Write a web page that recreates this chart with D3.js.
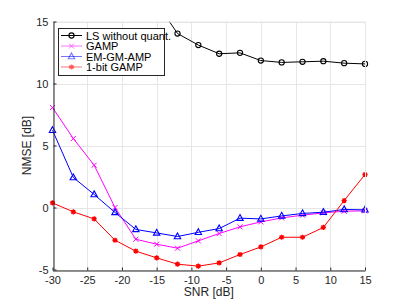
<!DOCTYPE html>
<html>
<head>
<meta charset="utf-8">
<script src="https://cdn.jsdelivr.net/npm/d3@7"></script>
<style>
  body { margin: 0; background: #fff; }
  text { font-family: "Liberation Sans", Arial, sans-serif; }
</style>
</head>
<body>
<script>
"use strict";

var snr = [-30, -27, -24, -21, -18, -15, -12, -9, -6, -3, 0, 3, 6, 9, 12, 15];
var lsNoQuant = [30, 27, 24, 21.5, 19, 16.5, 14.03, 13.1, 12.4, 12.47, 11.85, 11.7, 11.75, 11.8, 11.64, 11.58];
var gamp = [8.06, 5.56, 3.41, 0.0, -2.56, -2.96, -3.28, -2.69, -2.1, -1.56, -1.16, -0.84, -0.62, -0.43, -0.3, -0.27];
var emGmAmp = [6.23, 2.42, 1.05, -0.4, -1.77, -2.05, -2.34, -2.0, -1.7, -0.86, -0.92, -0.68, -0.48, -0.38, -0.16, -0.19];
var oneBitGamp = [0.37, -0.35, -0.92, -2.64, -3.52, -4.06, -4.57, -4.73, -4.47, -3.79, -3.18, -2.4, -2.4, -1.61, 0.56, 2.66];
var xTicks = [-30, -25, -20, -15, -10, -5, 0, 5, 10, 15];
var yTicks = [-5, 0, 5, 10, 15];

var series = [
    { name: "LS without quant.", values: lsNoQuant, color: "#000000", marker: "circle", legendOpacity: 1 },
    { name: "GAMP", values: gamp, color: "#ff00ff", marker: "cross", legendOpacity: 0.55 },
    { name: "EM-GM-AMP", values: emGmAmp, color: "#0000ff", marker: "triangle", legendOpacity: 0.55 },
    { name: "1-bit GAMP", values: oneBitGamp, color: "#ff0000", marker: "star", legendOpacity: 0.55 }
];

var width = 403,
    height = 303;
var plotLeft = 52.5, plotRight = 365, plotTop = 21.5, plotBottom = 269.5;

var x = d3.scaleLinear().domain([-30, 15]).range([plotLeft, plotRight]);
var y = d3.scaleLinear().domain([-5, 15]).range([plotBottom, plotTop]);

var svg = d3.select("body").append("svg")
    .attr("width", width)
    .attr("height", height);

// grid
svg.append("g").selectAll("line")
    .data(xTicks)
    .enter().append("line")
        .attr("x1", function(d) { return Math.round(x(d)) + 0.5; })
        .attr("x2", function(d) { return Math.round(x(d)) + 0.5; })
        .attr("y1", plotTop)
        .attr("y2", plotBottom)
        .style("stroke", "#e6e6e6")
        .style("stroke-width", 1);

svg.append("g").selectAll("line")
    .data(yTicks)
    .enter().append("line")
        .attr("x1", plotLeft)
        .attr("x2", plotRight)
        .attr("y1", function(d) { return Math.round(y(d)) + 0.5; })
        .attr("y2", function(d) { return Math.round(y(d)) + 0.5; })
        .style("stroke", "#e6e6e6")
        .style("stroke-width", 1);

svg.append("clipPath").attr("id", "plotclip")
    .append("rect")
        .attr("x", plotLeft - 6).attr("y", plotTop)
        .attr("width", plotRight - plotLeft + 12).attr("height", plotBottom - plotTop + 6);

var line = d3.line()
    .x(function(d, i) { return x(snr[i]); })
    .y(function(d) { return y(d); });

var plot = svg.append("g").attr("clip-path", "url(#plotclip)");

function drawMarker(g, type, color) {
    if (type === "circle") {
        g.append("circle").attr("r", 2.6)
            .style("fill", "none").style("stroke", color).style("stroke-width", 1.1);
    } else if (type === "cross") {
        g.append("path").attr("d", "M-2.5,-2.5L2.5,2.5M-2.5,2.5L2.5,-2.5")
            .style("stroke", color).style("stroke-width", 1);
    } else if (type === "triangle") {
        g.append("path").attr("d", "M0,-3.6L3.2,2.2L-3.2,2.2Z")
            .style("fill", "none").style("stroke", color).style("stroke-width", 1.1);
    } else if (type === "star") {
        g.append("path").attr("d", "M-2.6,0L2.6,0M0,-2.6L0,2.6M-1.9,-1.9L1.9,1.9M-1.9,1.9L1.9,-1.9")
            .style("stroke", color).style("stroke-width", 1.3);
        g.append("circle").attr("r", 1.4).style("fill", color);
    }
}

series.forEach(function(s) {
    plot.append("path")
        .datum(s.values)
        .attr("d", line)
        .style("fill", "none")
        .style("stroke", s.color)
        .style("stroke-width", 1);

    plot.selectAll(null)
        .data(s.values)
        .enter().append("g")
            .attr("transform", function(d, i) { return "translate(" + x(snr[i]) + "," + y(d) + ")"; })
            .each(function() { drawMarker(d3.select(this), s.marker, s.color); });
});

// light box on top and right
svg.append("path")
    .attr("d", "M" + plotLeft + "," + (plotTop + 0.5) + "H" + (plotRight + 0.5) + "V" + plotBottom)
    .style("fill", "none")
    .style("stroke", "#e6e6e6");

// axes
var xAxis = svg.append("g")
    .attr("transform", "translate(0," + (Math.round(plotBottom) + 0.5) + ")")
    .call(d3.axisBottom(x).tickValues(xTicks).tickSizeInner(-3).tickSizeOuter(0).tickPadding(6));

var yAxis = svg.append("g")
    .attr("transform", "translate(" + (Math.round(plotLeft) + 0.5) + ",0)")
    .call(d3.axisLeft(y).tickValues(yTicks).tickSizeInner(-3).tickSizeOuter(0).tickPadding(5));

[xAxis, yAxis].forEach(function(a) {
    a.select(".domain").style("stroke", "#262626");
    a.selectAll(".tick line").style("stroke", "#262626");
    a.selectAll(".tick text")
        .style("font-family", "Liberation Sans, Arial, sans-serif")
        .style("font-size", "11px")
        .style("fill", "#262626");
});
xAxis.selectAll(".tick text").text(function(d) { return d; });
yAxis.selectAll(".tick text").text(function(d) { return d; });

svg.append("text")
    .attr("x", (plotLeft + plotRight) / 2)
    .attr("y", 296)
    .attr("text-anchor", "middle")
    .style("font-size", "12px")
    .style("fill", "#262626")
    .text("SNR [dB]");

svg.append("text")
    .attr("transform", "translate(31," + ((plotTop + plotBottom) / 2) + ") rotate(-90)")
    .attr("text-anchor", "middle")
    .style("font-size", "12px")
    .style("fill", "#262626")
    .text("NMSE [dB]");

// legend
var legend = svg.append("g");
legend.append("rect")
    .attr("x", 58.5).attr("y", 28.5)
    .attr("width", 106).attr("height", 47)
    .style("fill", "#fff")
    .style("stroke", "#262626")
    .style("stroke-width", 1);

var rows = legend.selectAll("g")
    .data(series)
    .enter().append("g")
        .attr("transform", function(d, i) { return "translate(0," + (35.5 + i * 10.5) + ")"; });

rows.append("line")
    .attr("x1", 61).attr("x2", 82)
    .style("stroke", function(d) { return d.color; })
    .style("opacity", function(d) { return d.legendOpacity; })
    .style("stroke-width", 1);

rows.append("g")
    .attr("transform", "translate(71.5,0)")
    .style("opacity", function(d) { return d.legendOpacity; })
    .each(function(d) { drawMarker(d3.select(this), d.marker, d.color); });

rows.append("text")
    .attr("x", 86)
    .attr("y", 4)
    .style("font-size", "11px")
    .style("fill", "#000")
    .text(function(d) { return d.name; });
</script>
</body>
</html>
